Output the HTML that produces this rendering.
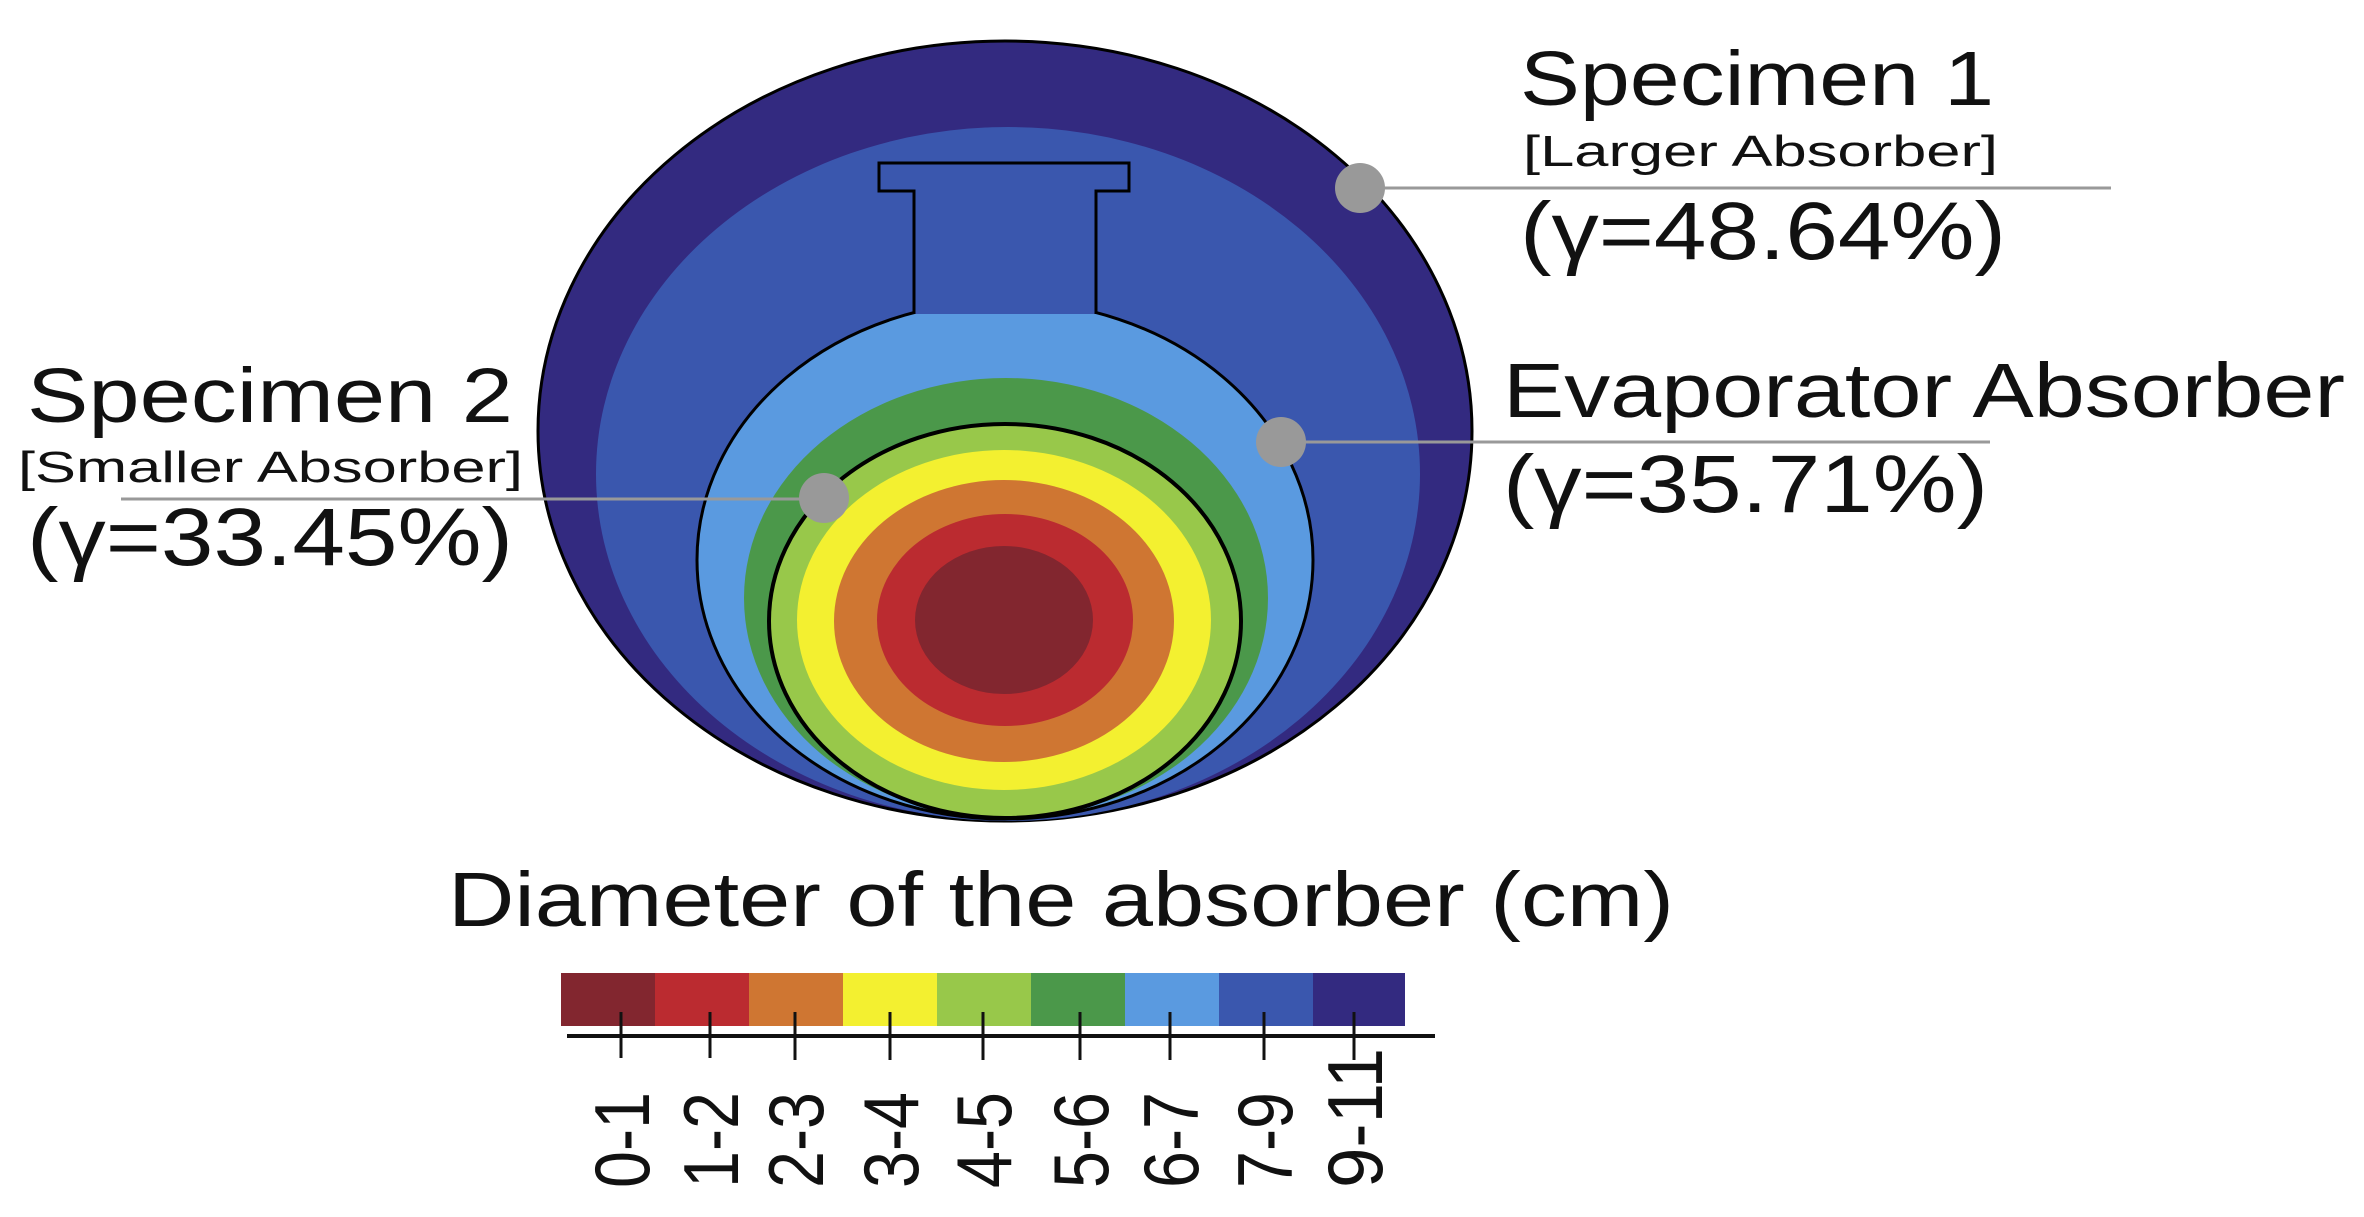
<!DOCTYPE html>
<html><head><meta charset="utf-8"><style>
html,body{margin:0;padding:0;background:#fff;width:2364px;height:1217px;overflow:hidden}
svg{display:block}
text{font-family:"Liberation Sans",Arial,sans-serif;fill:#111}
</style></head><body>
<svg width="2364" height="1217" viewBox="0 0 2364 1217" xmlns="http://www.w3.org/2000/svg">
<ellipse cx="1005" cy="431" rx="467" ry="390" fill="#332a80" stroke="#000" stroke-width="3"/>
<ellipse cx="1008" cy="474" rx="412" ry="347" fill="#3a57ae"/>
<ellipse cx="1005" cy="560" rx="308" ry="259" fill="#5a9ae0" stroke="#000" stroke-width="3"/>
<path d="M914,314 L914,191 L879,191 L879,163 L1129,163 L1129,191 L1096,191 L1096,314" fill="#3a57ae" stroke="#000" stroke-width="3"/>
<ellipse cx="1006" cy="598" rx="262" ry="220" fill="#4b984a"/>
<ellipse cx="1005" cy="621" rx="236" ry="197" fill="#98c84a" stroke="#000" stroke-width="4"/>
<ellipse cx="1004" cy="620" rx="207" ry="170" fill="#f3f030"/>
<ellipse cx="1004" cy="621" rx="170" ry="141" fill="#cf7632"/>
<ellipse cx="1005" cy="620" rx="128" ry="106" fill="#bb2b30"/>
<ellipse cx="1004" cy="620" rx="89" ry="74" fill="#82262f"/>
<g stroke="#999" stroke-width="3">
<line x1="1360" y1="188" x2="2111" y2="188"/>
<line x1="1281" y1="442" x2="1990" y2="442"/>
<line x1="121" y1="499" x2="824" y2="499"/>
</g>
<g fill="#999">
<circle cx="1360" cy="188" r="25"/>
<circle cx="1281" cy="442" r="25"/>
<circle cx="824" cy="498" r="25"/>
</g>
<g font-size="77">
<text x="1520" y="105" textLength="474" lengthAdjust="spacingAndGlyphs">Specimen 1</text>
<text x="1523" y="166" font-size="44" textLength="475" lengthAdjust="spacingAndGlyphs">[Larger Absorber]</text>
<text x="1520" y="259" font-size="82" textLength="486" lengthAdjust="spacingAndGlyphs">(γ=48.64%)</text>
<text x="1503" y="417" textLength="842" lengthAdjust="spacingAndGlyphs">Evaporator Absorber</text>
<text x="1503" y="512" font-size="82" textLength="485" lengthAdjust="spacingAndGlyphs">(γ=35.71%)</text>
<text x="27" y="422" textLength="486" lengthAdjust="spacingAndGlyphs">Specimen 2</text>
<text x="18" y="482" font-size="44" textLength="505" lengthAdjust="spacingAndGlyphs">[Smaller Absorber]</text>
<text x="27" y="565" font-size="82" textLength="486" lengthAdjust="spacingAndGlyphs">(γ=33.45%)</text>
<text x="448" y="926" textLength="1226" lengthAdjust="spacingAndGlyphs">Diameter of the absorber (cm)</text>
</g>
<g>
<rect x="561" y="973" width="94" height="53" fill="#82262f"/>
<rect x="655" y="973" width="94" height="53" fill="#bb2b30"/>
<rect x="749" y="973" width="94" height="53" fill="#cf7632"/>
<rect x="843" y="973" width="94" height="53" fill="#f3f030"/>
<rect x="937" y="973" width="94" height="53" fill="#98c84a"/>
<rect x="1031" y="973" width="94" height="53" fill="#4b984a"/>
<rect x="1125" y="973" width="94" height="53" fill="#5a9ae0"/>
<rect x="1219" y="973" width="94" height="53" fill="#3a57ae"/>
<rect x="1313" y="973" width="92" height="53" fill="#332a80"/>
</g>
<line x1="567" y1="1036" x2="1435" y2="1036" stroke="#111" stroke-width="4"/>
<g stroke="#111" stroke-width="3">
<line x1="621" y1="1012" x2="621" y2="1058"/>
<line x1="710" y1="1012" x2="710" y2="1058"/>
<line x1="795" y1="1012" x2="795" y2="1060"/>
<line x1="890" y1="1012" x2="890" y2="1060"/>
<line x1="983" y1="1012" x2="983" y2="1060"/>
<line x1="1080" y1="1012" x2="1080" y2="1060"/>
<line x1="1170" y1="1012" x2="1170" y2="1060"/>
<line x1="1264" y1="1012" x2="1264" y2="1060"/>
<line x1="1354" y1="1012" x2="1354" y2="1060"/>
</g>
<g font-size="78">
<text transform="translate(649,1188) rotate(-90)" textLength="96" lengthAdjust="spacingAndGlyphs">0-1</text>
<text transform="translate(738,1188) rotate(-90)" textLength="96" lengthAdjust="spacingAndGlyphs">1-2</text>
<text transform="translate(823,1188) rotate(-90)" textLength="96" lengthAdjust="spacingAndGlyphs">2-3</text>
<text transform="translate(918,1188) rotate(-90)" textLength="96" lengthAdjust="spacingAndGlyphs">3-4</text>
<text transform="translate(1011,1188) rotate(-90)" textLength="96" lengthAdjust="spacingAndGlyphs">4-5</text>
<text transform="translate(1108,1188) rotate(-90)" textLength="96" lengthAdjust="spacingAndGlyphs">5-6</text>
<text transform="translate(1198,1188) rotate(-90)" textLength="96" lengthAdjust="spacingAndGlyphs">6-7</text>
<text transform="translate(1292,1188) rotate(-90)" textLength="96" lengthAdjust="spacingAndGlyphs">7-9</text>
<text transform="translate(1382,1188) rotate(-90)" textLength="140" lengthAdjust="spacingAndGlyphs">9-11</text>
</g>
</svg>
</body></html>
